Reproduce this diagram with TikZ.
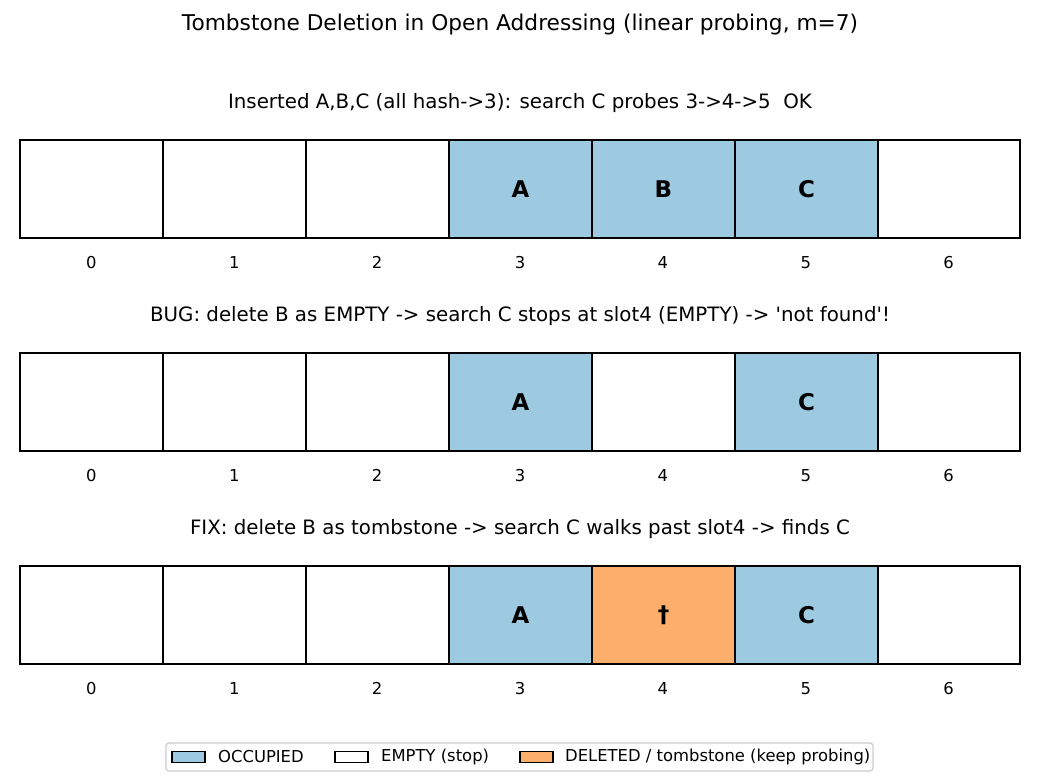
\documentclass[tikz,border=0pt]{standalone}
\usepackage{fontspec}
\setmainfont{DejaVu Sans}
\definecolor{occ}{HTML}{9ECAE1}
\definecolor{tomb}{HTML}{FDAE6B}
\definecolor{legedge}{HTML}{CCCCCC}
\begin{document}
\begin{tikzpicture}[x=1pt,y=-1pt,
  cellbox/.style={draw=black,line width=1.6pt,minimum width=143pt,minimum height=98pt,inner sep=0pt,outer sep=0pt,font=\fontsize{23}{26}\selectfont\bfseries},
  lastbox/.style={minimum width=142pt},
  occbox/.style={cellbox,fill=occ},
  tombbox/.style={cellbox,fill=tomb},
  emptybox/.style={cellbox,fill=white},
  idx/.style={font=\fontsize{16.4}{19}\selectfont,inner sep=0pt,anchor=base},
  subttl/.style={font=\fontsize{19.8}{23}\selectfont,inner sep=0pt},
  legpatch/.style={draw=black,line width=1.2pt,minimum width=33pt,minimum height=11pt,inner sep=0pt},
  legtext/.style={font=\fontsize{16.4}{19}\selectfont,inner sep=0pt,anchor=west}
]
\useasboundingbox (0,0) rectangle (1040,780);
\fill[white] (0,0) rectangle (1040,780);
\node[font=\fontsize{21.7}{26}\selectfont,inner sep=0pt] (title) at (520,25) {Tombstone Deletion in Open Addressing (linear probing, m=7)};

% row 1
\node[subttl] (t1) at (520,103) {Inserted A,B,C (all hash->3): search C probes 3->4->5\ \ OK};
\node[emptybox] (r1c0) at (91.5,189) {};
\node[emptybox] (r1c1) at (234.5,189) {};
\node[emptybox] (r1c2) at (377.5,189) {};
\node[occbox] (r1c3) at (520.5,189) {A};
\node[occbox] (r1c4) at (663.5,189) {B};
\node[occbox] (r1c5) at (806.5,189) {C};
\node[emptybox,lastbox] (r1c6) at (949,189) {};
\foreach \i/\x in {0/91.43,1/234.29,2/377.14,3/520,4/662.86,5/805.71,6/948.57}
  \node[idx] (i1\i) at (\x,268) {\i};

% row 2
\node[subttl] (t2) at (520,316) {BUG: delete B as EMPTY -> search C stops at slot4 (EMPTY) -> \textquotesingle not found\textquotesingle !};
\node[emptybox] (r2c0) at (91.5,402) {};
\node[emptybox] (r2c1) at (234.5,402) {};
\node[emptybox] (r2c2) at (377.5,402) {};
\node[occbox] (r2c3) at (520.5,402) {A};
\node[emptybox] (r2c4) at (663.5,402) {};
\node[occbox] (r2c5) at (806.5,402) {C};
\node[emptybox,lastbox] (r2c6) at (949,402) {};
\foreach \i/\x in {0/91.43,1/234.29,2/377.14,3/520,4/662.86,5/805.71,6/948.57}
  \node[idx] (i2\i) at (\x,481) {\i};

% row 3
\node[subttl] (t3) at (520,529) {FIX: delete B as tombstone -> search C walks past slot4 -> finds C};
\node[emptybox] (r3c0) at (91.5,615) {};
\node[emptybox] (r3c1) at (234.5,615) {};
\node[emptybox] (r3c2) at (377.5,615) {};
\node[occbox] (r3c3) at (520.5,615) {A};
\node[tombbox] (r3c4) at (663.5,615) {†};
\node[occbox] (r3c5) at (806.5,615) {C};
\node[emptybox,lastbox] (r3c6) at (949,615) {};
\foreach \i/\x in {0/91.43,1/234.29,2/377.14,3/520,4/662.86,5/805.71,6/948.57}
  \node[idx] (i3\i) at (\x,694) {\i};

% legend
\draw[legedge,line width=1.2pt,rounded corners=3pt,fill=white] (166,743) rectangle (873,771);
\node[legpatch,fill=occ] (lp1) at (188.5,757) {};
\node[legtext] (lt1) at (218,757) {OCCUPIED};
\node[legpatch,fill=white] (lp2) at (351.5,757) {};
\node[legtext] (lt2) at (381,757) {EMPTY (stop)};
\node[legpatch,fill=tomb] (lp3) at (536.5,757) {};
\node[legtext] (lt3) at (565,757) {DELETED / tombstone (keep probing)};
\end{tikzpicture}
\end{document}
